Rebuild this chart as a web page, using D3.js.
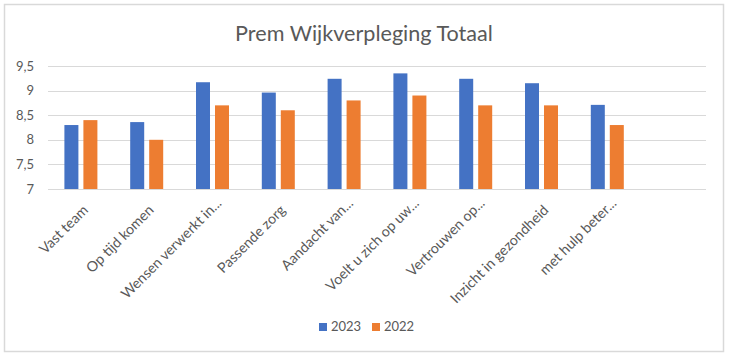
<!DOCTYPE html>
<html><head><meta charset="utf-8">
<script src="https://cdn.jsdelivr.net/npm/d3@7"></script>
<style>body{margin:0;background:#fff;} text{font-family:Lato,"Open Sans",sans-serif;}</style>
</head><body>
<svg id="c" width="732" height="357"></svg>
<script>
const categories = ["Vast team","Op tijd komen","Wensen verwerkt in...","Passende zorg","Aandacht van...","Voelt u zich op uw...","Vertrouwen op...","Inzicht in gezondheid","met hulp beter...",""];
const seriesNames = ["2023","2022"];
const values2023 = [8.3,8.36,9.17,8.96,9.24,9.35,9.24,9.15,8.71,null];
const values2022 = [8.4,8.0,8.7,8.6,8.8,8.9,8.7,8.7,8.3,null];
const yTicks = [7,7.5,8,8.5,9,9.5];
const colors = ["#4472C4","#ED7D31"];

(function(){
const svg = d3.select("#c");
svg.append("rect").attr("x",4.5).attr("y",4.5).attr("width",719).attr("height",347)
  .attr("fill","#fff").attr("stroke","#d9d9d9").attr("stroke-width",1.5);

const mLeft=48, mRight=706, mTop=66, mBottom=189;
const x = d3.scaleBand().domain(categories.map((d,i)=>i)).range([mLeft,mRight]).padding(0);
const y = d3.scaleLinear().domain([7,9.5]).range([mBottom,mTop]);
const x1 = d3.scaleBand().domain(seriesNames).range([x.bandwidth()/2-16.5, x.bandwidth()/2+16.5]).paddingInner(0.263).paddingOuter(0);

const title = svg.append("text").attr("x",364).attr("y",41).attr("text-anchor","middle")
  .attr("font-size",19).attr("fill","#595959").text("Prem Wijkverpleging Totaal");
const tw = title.node().getComputedTextLength();
title.attr("font-size", 19*258/tw);

svg.append("g").selectAll("line").data(yTicks).join("line")
  .attr("x1",mLeft).attr("x2",mRight).attr("y1",d=>Math.round(y(d))+0.5).attr("y2",d=>Math.round(y(d))+0.5)
  .attr("stroke","#d9d9d9").attr("stroke-width",1.2);

svg.append("g").selectAll("text").data(yTicks).join("text")
  .attr("x",34).attr("y",d=>y(d)+4.5).attr("text-anchor","end").attr("font-size",13).attr("fill","#595959")
  .text(d=>String(d).replace(".",","));

const series = [values2023, values2022];
series.forEach((vals,si)=>{
  svg.append("g").selectAll("rect").data(vals.map((v,i)=>({v,i})).filter(d=>d.v!=null)).join("rect")
    .attr("x",d=>x(d.i)+x1(seriesNames[si])).attr("width",x1.bandwidth())
    .attr("y",d=>y(d.v)).attr("height",d=>y(7)-y(d.v)).attr("fill",colors[si]);
});

const labels = svg.append("g").selectAll("text").data(categories).join("text")
  .attr("text-anchor","end").attr("font-size",12.5).attr("fill","#595959").text(d=>d);
const refLen = labels.filter((d,i)=>i===7).node().getComputedTextLength();
const fs = 12.5*132/refLen;
labels.attr("font-size",fs)
  .attr("transform",(d,i)=>{
    const trunc = d.endsWith("...");
    const cx = x(i)+x.bandwidth()/2 + (trunc?10:8);
    const cy = trunc ? 204 : 211;
    return `translate(${cx},${cy}) rotate(-45)`;
  });

const lg = svg.append("g");
const lx=[319,372];
seriesNames.forEach((s,i)=>{
  lg.append("rect").attr("x",lx[i]).attr("y",323).attr("width",8).attr("height",8).attr("fill",colors[i]);
  lg.append("text").attr("x",lx[i]+12).attr("y",331).attr("font-size",13).attr("fill","#595959").text(s);
});
})();
</script>
</body></html>
